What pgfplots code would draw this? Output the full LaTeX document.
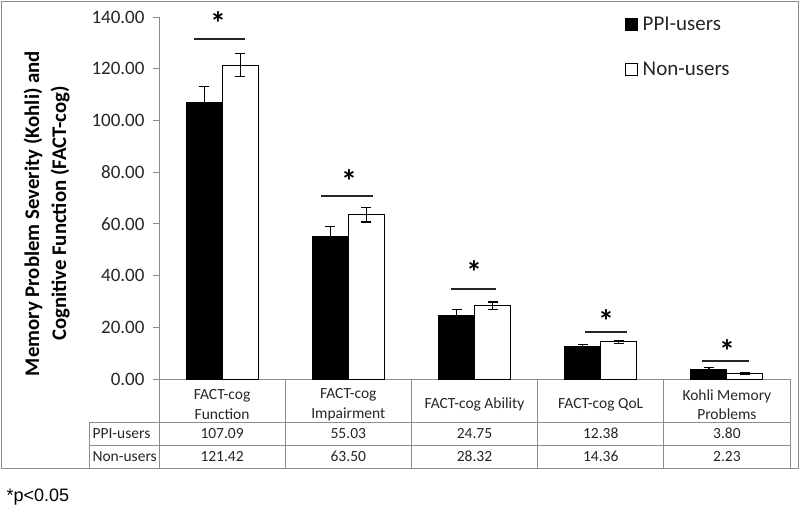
\documentclass[border=0pt]{standalone}
\usepackage{fontspec}
\setmainfont{Carlito}
\newfontfamily\arial{Liberation Sans}
\usepackage{pgfplots}
\pgfplotsset{compat=1.18}
\definecolor{rule}{HTML}{8C8C8C}
\definecolor{txt}{HTML}{262626}

\begin{document}
\begin{tikzpicture}[x=1pt,y=-1pt]
\path[use as bounding box] (0,0) rectangle (800,512);
\begin{axis}[
    at={(159pt,-379pt)}, anchor=south west,
    scale only axis, width=631pt, height=362pt,
    xmin=-0.5, xmax=4.5, ymin=0, ymax=140,
    ybar=0pt, bar width=36pt,
    axis lines*=left,
    axis line style={rule, line width=1pt},
    xtick={0,...,4},
    xticklabels={{FACT-cog\\Function},{FACT-cog\\Impairment},{FACT-cog Ability},{FACT-cog QoL},{Kohli Memory\\Problems}},
    x tick style={draw=none},
    xticklabel style={anchor=center, yshift=-19.5pt, align=center, text=txt,
        font=\fontsize{15.5}{19.5}\selectfont},
    ytick={0,20,...,140},
    y tick style={rule, line width=1pt},
    tick align=outside, major tick length=6pt,
    yticklabel style={text=txt, font=\fontsize{19}{21}\selectfont, xshift=-5pt,
        /pgf/number format/fixed, /pgf/number format/fixed zerofill,
        /pgf/number format/precision=2, /pgf/number format/assume math mode=true},
    ylabel={Memory Problem Severity (Kohli) and\\[3pt]Cognitive Function (FACT-cog)},
    ylabel style={align=center, font=\bfseries\fontsize{20.8}{24}\selectfont,
        at={(axis description cs:-0.178,0.457)}, anchor=center},
    clip=false,
    legend style={draw=none, fill=none, at={(axis description cs:0.733,1.012)},
        anchor=north west, font=\fontsize{21}{24}\selectfont, row sep=26pt,
        text=txt},
    legend cell align=left,
]
\addplot[fill=black, draw=black, line width=1pt,
    legend image code/.code={\draw[fill=black,draw=black,line width=1pt] (0pt,-6pt) rectangle (12pt,6pt);},
    error bars/.cd, y dir=both, y explicit,
    error bar style={black, line width=1.2pt},
    error mark options={rotate=90, mark size=5pt, line width=1.2pt, black}]
    coordinates {(0,107.09) +- (0,6.0) (1,55.03) +- (0,4.0) (2,24.75) +- (0,2.0)
                 (3,12.38) +- (0,1.0) (4,3.80) +- (0,0.7)};
\addplot[fill=white, draw=black, line width=1pt,
    legend image code/.code={\draw[fill=white,draw=black,line width=1pt] (0pt,-6pt) rectangle (12pt,6pt);},
    error bars/.cd, y dir=both, y explicit,
    error bar style={black, line width=1.2pt},
    error mark options={rotate=90, mark size=5pt, line width=1.2pt, black}]
    coordinates {(0,121.42) +- (0,4.4) (1,63.50) +- (0,2.8) (2,28.32) +- (0,1.5)
                 (3,14.36) +- (0,0.5) (4,2.23) +- (0,0.3)};
\legend{\hspace{3pt}PPI-users, \hspace{3pt}Non-users}
\end{axis}

% outer frame
\draw[rule, line width=1pt] (1,1) rectangle (798,468);

% data table
\draw[rule, line width=1pt] (89,422) -- (790,422) (89,445) -- (790,445) (89,468) -- (790,468);
\draw[rule, line width=1pt] (89,422) -- (89,468) (159,379) -- (159,468) (790,379) -- (790,468);
\foreach \xx in {285.2,411.4,537.6,663.8}
  \draw[rule, line width=1pt] (\xx,379) -- (\xx,468);
\node[anchor=west, text=txt, font=\fontsize{15.5}{17}\selectfont] at (89,433.5) {PPI-users};
\node[anchor=west, text=txt, font=\fontsize{15.5}{17}\selectfont] at (89,456.5) {Non-users};
\foreach \cx/\a/\b in {222.1/107.09/121.42, 348.3/55.03/63.50, 474.5/24.75/28.32,
                       600.7/12.38/14.36, 726.9/3.80/2.23} {
  \node[text=txt, font=\fontsize{15.5}{17}\selectfont] at (\cx,433.5) {\a};
  \node[text=txt, font=\fontsize{15.5}{17}\selectfont] at (\cx,456.5) {\b};
}

% significance markers
\draw[black!85, line width=1.2pt] (194,39) -- (245,39) (321,196) -- (373,196)
  (451,289) -- (496,289) (585,332) -- (627,332) (702,361) -- (749,361);
\foreach \sx/\sy in {218/23, 349/181, 474/272, 606/321, 727/351}
  \node[font=\bfseries\fontsize{32}{32}\selectfont] at (\sx,\sy) {*};

\node[anchor=west, font=\arial\fontsize{18}{20}\selectfont] at (3,497) {*p<0.05};
\end{tikzpicture}
\end{document}
